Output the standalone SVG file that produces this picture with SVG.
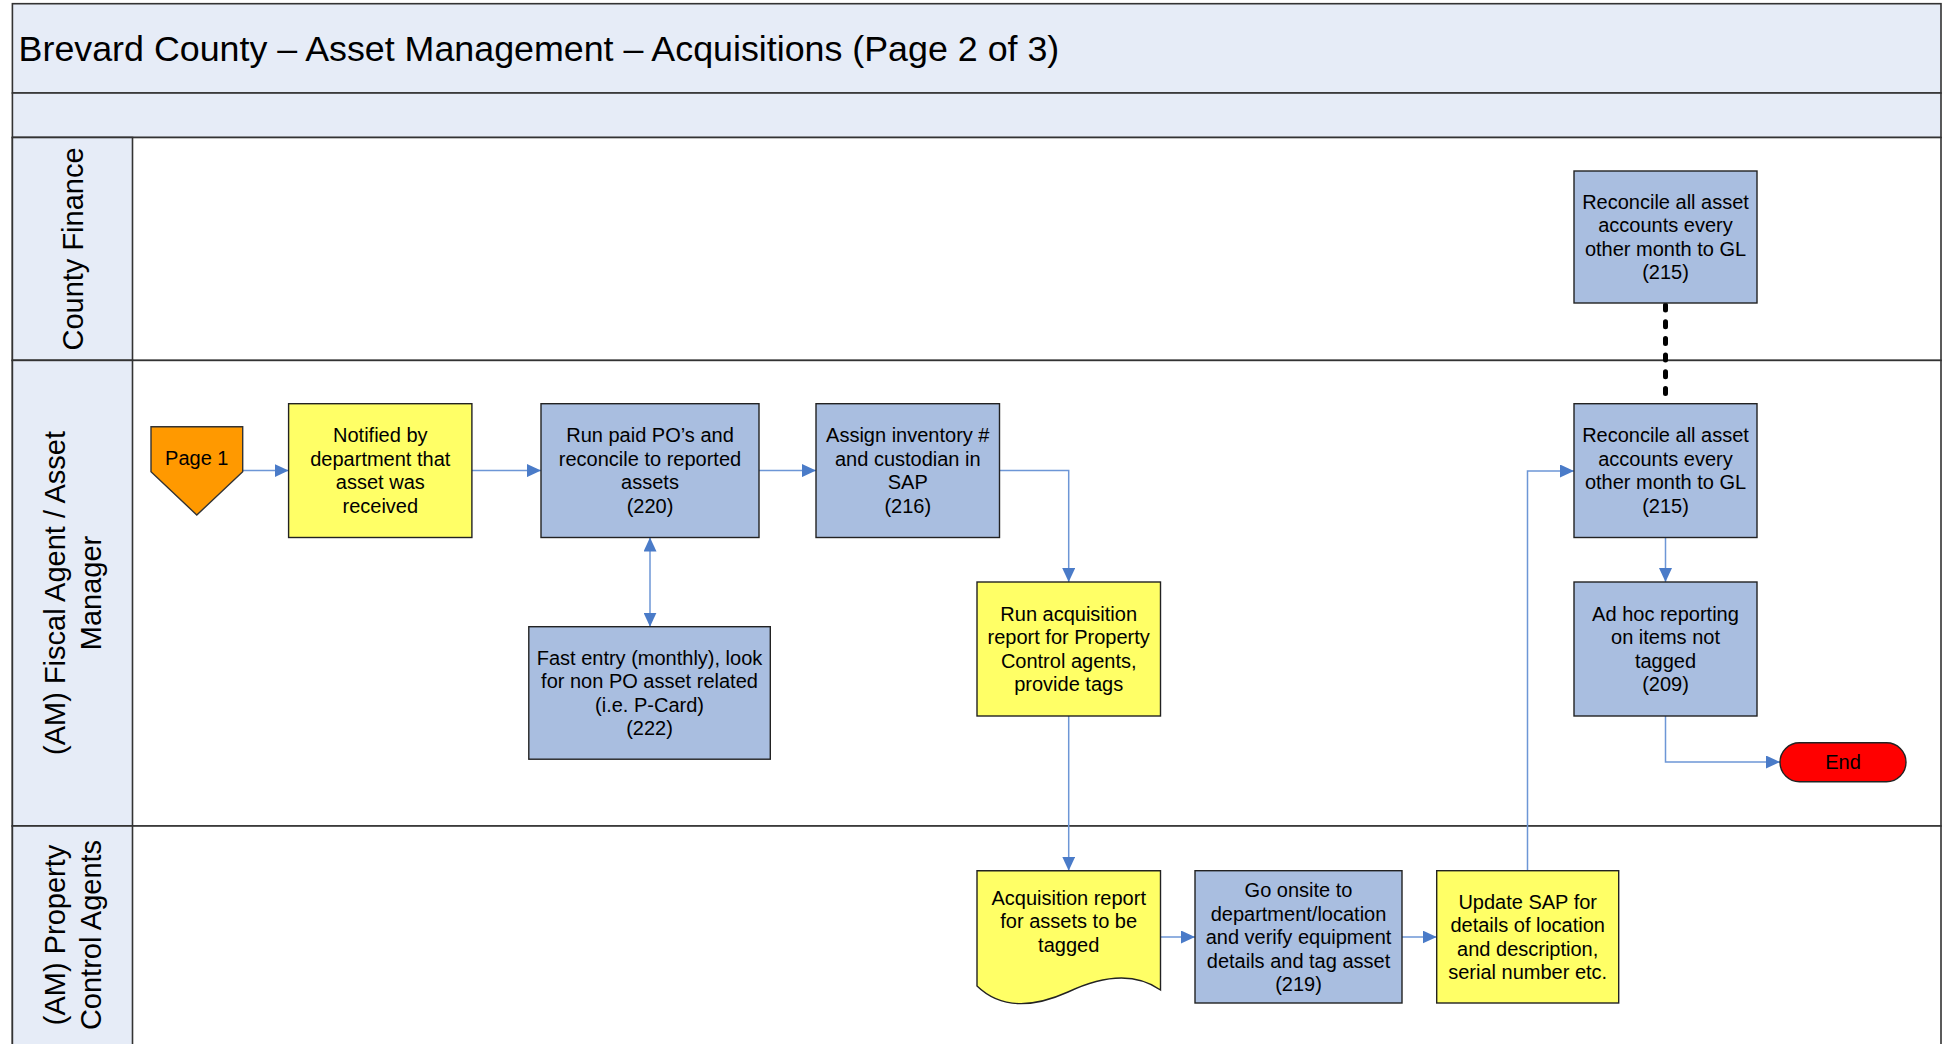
<svg xmlns="http://www.w3.org/2000/svg" width="1942" height="1044" viewBox="0 0 1942 1044">
  <defs>
    <marker id="arrow" markerUnits="userSpaceOnUse" markerWidth="14" markerHeight="13" refX="14" refY="6.5" orient="auto-start-reverse">
      <path d="M0,0 L14,6.5 L0,13 Z" fill="#4A7BC8"/>
    </marker>
  </defs>
  <style>
    .band{fill:#E6ECF7;stroke:#333;stroke-width:1.6}
    .lane{fill:#FFFFFF;stroke:#333;stroke-width:1.6}
    .hdr{fill:#E6ECF7;stroke:#333;stroke-width:1.6}
    .title{font-family:"Liberation Sans",Arial,sans-serif;font-size:35.8px;fill:#000}
    .lbl{font-family:"Liberation Sans",Arial,sans-serif;font-size:29px;fill:#000;text-anchor:middle}
    .proc{fill:#A9BEE0;stroke:#222;stroke-width:1.4}
    .note{fill:#FFFF66;stroke:#222;stroke-width:1.4}
    .t{font-family:"Liberation Sans",Arial,sans-serif;font-size:20px;fill:#000;text-anchor:middle}
    .conn{fill:none;stroke:#6D96D6;stroke-width:1.5}
    .dots{fill:none;stroke:#000;stroke-width:5;stroke-linecap:round;stroke-dasharray:5 11.7}
  </style>

  <!-- Title and header bands -->
  <g id="title-band">
    <rect class="band" x="12.4" y="3.7" width="1928.6" height="89.3"/>
    <text class="title" x="18.6" y="61">Brevard County – Asset Management – Acquisitions (Page 2 of 3)</text>
  </g>
  <rect class="band" x="12.4" y="93" width="1928.6" height="44.5"/>

  <!-- Swimlanes -->
  <g id="lane-county-finance">
    <rect class="lane" x="12.4" y="137.5" width="1928.6" height="222.9"/>
    <rect class="hdr" x="12.4" y="137.5" width="120.1" height="222.9"/>
    <text class="lbl" transform="translate(72.5,249) rotate(-90)" x="0" y="10">County Finance</text>
  </g>
  <g id="lane-fiscal-agent">
    <rect class="lane" x="12.4" y="360.4" width="1928.6" height="465.6"/>
    <rect class="hdr" x="12.4" y="360.4" width="120.1" height="465.6"/>
    <text class="lbl" transform="translate(72.5,593) rotate(-90)" x="0" y="-8">(AM) Fiscal Agent / Asset</text>
    <text class="lbl" transform="translate(72.5,593) rotate(-90)" x="0" y="28">Manager</text>
  </g>
  <g id="lane-property-control">
    <rect class="lane" x="12.4" y="826" width="1928.6" height="222"/>
    <rect class="hdr" x="12.4" y="826" width="120.1" height="222"/>
    <text class="lbl" transform="translate(72.5,935) rotate(-90)" x="0" y="-8">(AM) Property</text>
    <text class="lbl" transform="translate(72.5,935) rotate(-90)" x="0" y="28">Control Agents</text>
  </g>

  <!-- Connectors -->
  <g id="connectors">
    <path class="conn" d="M243,470.6 H288.6" marker-end="url(#arrow)"/>
    <path class="conn" d="M472,470.6 H541" marker-end="url(#arrow)"/>
    <path class="conn" d="M759,470.6 H816" marker-end="url(#arrow)"/>
    <path class="conn" d="M999.5,470.6 H1068.7 V582" marker-end="url(#arrow)"/>
    <path class="conn" d="M650,537.5 V626.7" marker-start="url(#arrow)" marker-end="url(#arrow)"/>
    <path class="conn" d="M1068.7,716 V870.7" marker-end="url(#arrow)"/>
    <path class="conn" d="M1160.5,937 H1195" marker-end="url(#arrow)"/>
    <path class="conn" d="M1402,937 H1436.7" marker-end="url(#arrow)"/>
    <path class="conn" d="M1527.5,870.7 V471 H1574" marker-end="url(#arrow)"/>
    <path class="dots" d="M1665.5,305 V404"/>
    <path class="conn" d="M1665.5,537.5 V582" marker-end="url(#arrow)"/>
    <path class="conn" d="M1665.5,716 V762 H1780" marker-end="url(#arrow)"/>
  </g>

  <!-- Nodes -->
  <g id="page1">
    <path d="M151,426.7 H242.7 V471.7 L196.8,515 L151,471.7 Z" fill="#FF9900" stroke="#333" stroke-width="1.4"/>
    <text class="t" x="196.8" y="465">Page 1</text>
  </g>

  <g id="notified">
    <rect class="note" x="288.6" y="403.7" width="183.3" height="133.8"/>
    <text class="t" x="380.3" y="442.4">Notified by</text>
    <text class="t" x="380.3" y="465.9">department that</text>
    <text class="t" x="380.3" y="489.4">asset was</text>
    <text class="t" x="380.3" y="512.9">received</text>
  </g>

  <g id="run-paid-pos">
    <rect class="proc" x="541" y="403.7" width="218" height="133.8"/>
    <text class="t" x="650" y="442.4">Run paid PO’s and</text>
    <text class="t" x="650" y="465.9">reconcile to reported</text>
    <text class="t" x="650" y="489.4">assets</text>
    <text class="t" x="650" y="512.9">(220)</text>
  </g>

  <g id="assign-inventory">
    <rect class="proc" x="816" y="403.7" width="183.5" height="133.8"/>
    <text class="t" x="907.8" y="442.4">Assign inventory #</text>
    <text class="t" x="907.8" y="465.9">and custodian in</text>
    <text class="t" x="907.8" y="489.4">SAP</text>
    <text class="t" x="907.8" y="512.9">(216)</text>
  </g>

  <g id="fast-entry">
    <rect class="proc" x="528.8" y="626.7" width="241.5" height="132.5"/>
    <text class="t" x="649.5" y="664.8">Fast entry (monthly), look</text>
    <text class="t" x="649.5" y="688.3">for non PO asset related</text>
    <text class="t" x="649.5" y="711.8">(i.e. P-Card)</text>
    <text class="t" x="649.5" y="735.3">(222)</text>
  </g>

  <g id="run-acquisition-report">
    <rect class="note" x="977" y="582" width="183.5" height="134"/>
    <text class="t" x="1068.7" y="620.8">Run acquisition</text>
    <text class="t" x="1068.7" y="644.3">report for Property</text>
    <text class="t" x="1068.7" y="667.8">Control agents,</text>
    <text class="t" x="1068.7" y="691.3">provide tags</text>
  </g>

  <g id="acquisition-report-doc">
    <path class="note" d="M977,870.7 H1160.5 V990 Q1125,965 1068,992 Q1010,1018 977,986 Z"/>
    <text class="t" x="1068.7" y="904.9">Acquisition report</text>
    <text class="t" x="1068.7" y="928.4">for assets to be</text>
    <text class="t" x="1068.7" y="951.9">tagged</text>
  </g>

  <g id="go-onsite">
    <rect class="proc" x="1195" y="870.7" width="207" height="132.3"/>
    <text class="t" x="1298.5" y="897">Go onsite to</text>
    <text class="t" x="1298.5" y="920.5">department/location</text>
    <text class="t" x="1298.5" y="944">and verify equipment</text>
    <text class="t" x="1298.5" y="967.5">details and tag asset</text>
    <text class="t" x="1298.5" y="991">(219)</text>
  </g>

  <g id="update-sap">
    <rect class="note" x="1436.7" y="870.7" width="182" height="132.3"/>
    <text class="t" x="1527.7" y="908.8">Update SAP for</text>
    <text class="t" x="1527.7" y="932.3">details of location</text>
    <text class="t" x="1527.7" y="955.8">and description,</text>
    <text class="t" x="1527.7" y="979.3">serial number etc.</text>
  </g>

  <g id="reconcile-finance">
    <rect class="proc" x="1574" y="171" width="183" height="132"/>
    <text class="t" x="1665.5" y="208.8">Reconcile all asset</text>
    <text class="t" x="1665.5" y="232.3">accounts every</text>
    <text class="t" x="1665.5" y="255.8">other month to GL</text>
    <text class="t" x="1665.5" y="279.3">(215)</text>
  </g>

  <g id="reconcile-fiscal">
    <rect class="proc" x="1574" y="403.7" width="183" height="133.8"/>
    <text class="t" x="1665.5" y="442.4">Reconcile all asset</text>
    <text class="t" x="1665.5" y="465.9">accounts every</text>
    <text class="t" x="1665.5" y="489.4">other month to GL</text>
    <text class="t" x="1665.5" y="512.9">(215)</text>
  </g>

  <g id="ad-hoc-reporting">
    <rect class="proc" x="1574" y="582" width="183" height="134"/>
    <text class="t" x="1665.5" y="620.8">Ad hoc reporting</text>
    <text class="t" x="1665.5" y="644.3">on items not</text>
    <text class="t" x="1665.5" y="667.8">tagged</text>
    <text class="t" x="1665.5" y="691.3">(209)</text>
  </g>

  <g id="end">
    <rect x="1780" y="742.7" width="126" height="39" rx="19.5" ry="19.5" fill="#FF0000" stroke="#222" stroke-width="1.4"/>
    <text class="t" x="1843" y="769">End</text>
  </g>
</svg>
